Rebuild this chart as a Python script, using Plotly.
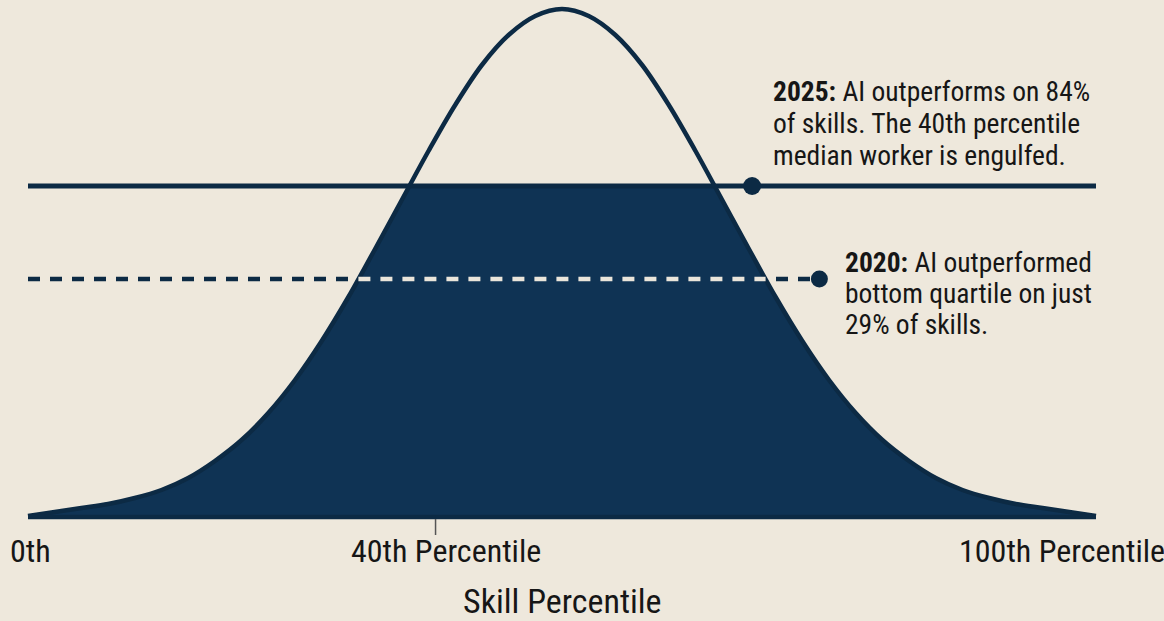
import numpy as np
import plotly.graph_objects as go

# ---- data ----
# skill axis position (0 = 0th, 100 = 100th percentile end of the axis)
skill_pos = [0, 2.5, 5, 7.5, 10, 12.5, 15, 17.5, 20, 22.5, 25, 27.5, 30, 32.5, 35, 37.5,
             40, 42.5, 45, 47.5, 50, 52.5, 55, 57.5, 60, 62.5, 65, 67.5, 70, 72.5, 75,
             77.5, 80, 82.5, 85, 87.5, 90, 92.5, 95, 97.5, 100]
# height of the skill distribution (relative units)
density = [1, 5, 9, 13, 19, 27, 39, 56, 77, 104, 137, 176, 220, 268, 317, 366,
           412, 452, 482, 501, 508, 501, 482, 452, 412, 366, 317, 268, 220, 176, 137,
           104, 77, 56, 39, 27, 19, 13, 9, 5, 1]

ai_level_2025 = 331          # AI frontier in 2025 (solid line)
ai_level_2020 = 238          # AI frontier in 2020 (dashed line)
marker_2025_pos = 67.8
marker_2020_pos = 74.1
tick_40th_pos = 38.16

tick_labels = ["0th", "40th Percentile", "100th Percentile"]
axis_title = "Skill Percentile"
note_2025 = ["<b>2025:</b> AI outperforms on 84%", "of skills. The 40th percentile",
             "median worker is engulfed."]
note_2020 = ["<b>2020:</b> AI outperformed", "bottom quartile on just", "29% of skills."]

# ---- styles ----
BG = "#EEE8DC"
NAVY = "#0F3354"
LINE = "#0C2A44"
LIGHT = "#EAE5DA"
TEXT = "#161616"
FONT = "Roboto Condensed, Roboto, sans-serif"

x = np.array(skill_pos, dtype=float)
h = np.array(density, dtype=float)


def crossings(level):
    idx = np.where(h >= level)[0]
    i0, i1 = idx[0], idx[-1]
    xl = x[i0 - 1] + (level - h[i0 - 1]) * (x[i0] - x[i0 - 1]) / (h[i0] - h[i0 - 1])
    xr = x[i1] + (level - h[i1]) * (x[i1 + 1] - x[i1]) / (h[i1 + 1] - h[i1])
    return i0, i1, xl, xr


fig = go.Figure()

# 2020 dashed line (dark part, under the fill)
fig.add_trace(go.Scatter(x=[0, marker_2020_pos], y=[ai_level_2020] * 2, mode="lines",
                         line=dict(color=LINE, width=4.5, dash="12px,10px"), hoverinfo="skip"))

# filled part of distribution, capped at the 2025 level
i0, i1, xl, xr = crossings(ai_level_2025)
fx = list(x[:i0]) + [xl, xr] + list(x[i1 + 1:])
fy = list(h[:i0]) + [ai_level_2025, ai_level_2025] + list(h[i1 + 1:])
fig.add_trace(go.Scatter(x=fx, y=fy, mode="lines", fill="tozeroy", fillcolor=NAVY,
                         line=dict(color=NAVY, width=0.5), hoverinfo="skip"))

# outline of the distribution
fig.add_trace(go.Scatter(x=x, y=h, mode="lines", line=dict(color=LINE, width=4.5, shape="spline"),
                         hoverinfo="skip"))

# 2025 solid line
fig.add_trace(go.Scatter(x=[0, 100], y=[ai_level_2025] * 2, mode="lines",
                         line=dict(color=LINE, width=5), hoverinfo="skip"))

# 2020 dashed line inside the fill (light)
_, _, xl2, xr2 = crossings(ai_level_2020)
fig.add_trace(go.Scatter(x=[xl2, xr2], y=[ai_level_2020] * 2, mode="lines",
                         line=dict(color=LIGHT, width=4.5, dash="12px,10px"), hoverinfo="skip"))

# baseline
fig.add_trace(go.Scatter(x=[0, 100], y=[0, 0], mode="lines",
                         line=dict(color=LINE, width=4.5), hoverinfo="skip"))

# 40th percentile tick
fig.add_trace(go.Scatter(x=[tick_40th_pos, tick_40th_pos], y=[-2, -18], mode="lines",
                         line=dict(color="#555555", width=1.5), hoverinfo="skip"))

# markers
fig.add_trace(go.Scatter(x=[marker_2025_pos, marker_2020_pos], y=[ai_level_2025, ai_level_2020],
                         mode="markers",
                         marker=dict(color=LINE, size=[18, 17], opacity=1, line=dict(width=0)),
                         hoverinfo="skip"))

# tick labels and axis title
fig.add_annotation(x=-1.9, y=-33.5, text=tick_labels[0], xanchor="left", yanchor="middle")
fig.add_annotation(x=39.14, y=-33.5, text=tick_labels[1], xanchor="center", yanchor="middle")
fig.add_annotation(x=96.77, y=-33.5, text=tick_labels[2], xanchor="center", yanchor="middle")
fig.add_annotation(x=50, y=-83.5, text=axis_title, xanchor="center", yanchor="middle",
                   font=dict(size=34))

for i, t in enumerate(note_2025):
    fig.add_annotation(x=69.6, y=426 - 32 * i, text=t, xanchor="left", yanchor="middle",
                       font=dict(size=27.5))
for i, t in enumerate(note_2020):
    fig.add_annotation(x=76.3, y=255 - 31 * i, text=t, xanchor="left", yanchor="middle",
                       font=dict(size=27.5))

fig.update_annotations(showarrow=False)
fig.update_layout(
    width=1164, height=621,
    margin=dict(l=0, r=0, t=0, b=0),
    paper_bgcolor=BG, plot_bgcolor=BG,
    showlegend=False,
    font=dict(family=FONT, size=32, color=TEXT),
    xaxis=dict(range=[-2.622, 106.367], visible=False, fixedrange=True),
    yaxis=dict(range=[-104, 517], visible=False, fixedrange=True),
)

fig.write_html("out.html", config={"displayModeBar": False},
               post_script="document.body.style.margin='0';")
